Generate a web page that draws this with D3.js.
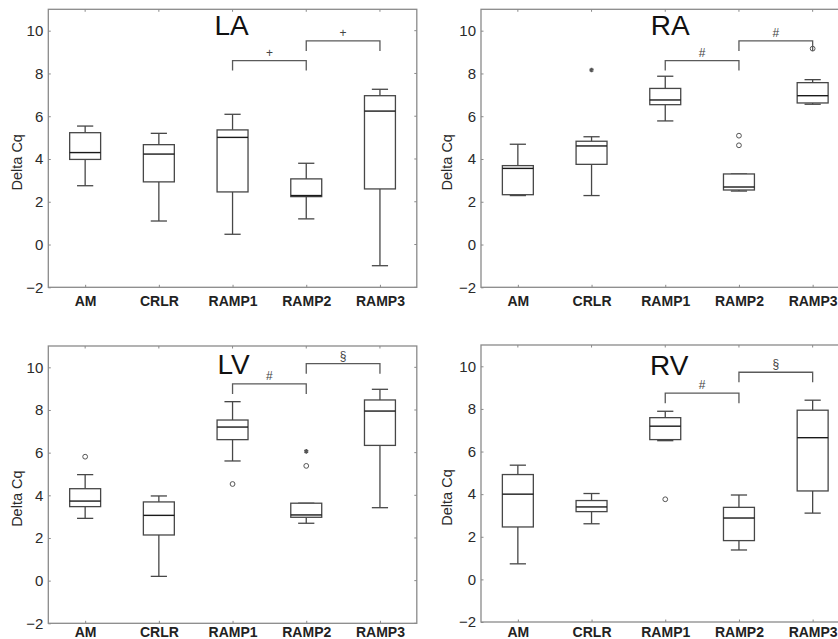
<!DOCTYPE html>
<html>
<head>
<meta charset="utf-8">
<script src="https://cdn.jsdelivr.net/npm/d3@7.9.0/dist/d3.min.js"></script>
<style>
  body { margin: 0; background: #fff; }
  svg { display: block; font-family: 'Liberation Sans', Arial, sans-serif; }
</style>
</head>
<body>
<svg id="chart" width="838" height="639"></svg>
<script>
const categories = ['AM', 'CRLR', 'RAMP1', 'RAMP2', 'RAMP3'];
const yTicks = [-2, 0, 2, 4, 6, 8, 10];

// [lower whisker, q1, median, q3, upper whisker]
const laStats = [
  [2.75, 3.98, 4.30, 5.23, 5.54],
  [1.10, 2.93, 4.23, 4.67, 5.20],
  [0.48, 2.46, 5.01, 5.36, 6.09],
  [1.20, 2.24, 2.29, 3.07, 3.80],
  [-0.99, 2.60, 6.24, 6.96, 7.26],
];
const raStats = [
  [2.29, 2.33, 3.56, 3.69, 4.69],
  [2.29, 3.75, 4.61, 4.83, 5.04],
  [5.78, 6.54, 6.76, 7.30, 7.87],
  [2.50, 2.55, 2.69, 3.30, 3.30],
  [6.56, 6.62, 6.96, 7.57, 7.71],
];
const lvStats = [
  [2.92, 3.47, 3.73, 4.31, 4.97],
  [0.20, 2.14, 3.06, 3.69, 3.97],
  [5.61, 6.61, 7.20, 7.53, 8.39],
  [2.69, 2.97, 3.08, 3.63, 3.63],
  [3.42, 6.34, 7.95, 8.47, 8.97],
];
const rvStats = [
  [0.73, 2.46, 4.00, 4.92, 5.36],
  [2.61, 3.18, 3.40, 3.70, 4.03],
  [6.51, 6.56, 7.19, 7.59, 7.89],
  [1.38, 1.82, 2.88, 3.38, 3.96],
  [3.11, 4.15, 6.65, 7.94, 8.41],
];

const laOutliers = [];
const raOutliers = [
  { cat: 'CRLR', value: 8.16, kind: 'star' },
  { cat: 'RAMP2', value: 5.09, kind: 'circle' },
  { cat: 'RAMP2', value: 4.64, kind: 'circle' },
  { cat: 'RAMP3', value: 9.16, kind: 'circle' },
];
const lvOutliers = [
  { cat: 'AM', value: 5.81, kind: 'circle' },
  { cat: 'RAMP1', value: 4.53, kind: 'circle' },
  { cat: 'RAMP2', value: 6.06, kind: 'star' },
  { cat: 'RAMP2', value: 5.38, kind: 'circle' },
];
const rvOutliers = [
  { cat: 'RAMP1', value: 3.76, kind: 'circle' },
];

const laBrackets = [
  { from: 'RAMP1', to: 'RAMP2', value: 8.60, label: '+' },
  { from: 'RAMP2', to: 'RAMP3', value: 9.52, label: '+' },
];
const raBrackets = [
  { from: 'RAMP1', to: 'RAMP2', value: 8.60, label: '#' },
  { from: 'RAMP2', to: 'RAMP3', value: 9.52, label: '#' },
];
const lvBrackets = [
  { from: 'RAMP1', to: 'RAMP2', value: 9.22, label: '#' },
  { from: 'RAMP2', to: 'RAMP3', value: 10.17, label: '§' },
];
const rvBrackets = [
  { from: 'RAMP1', to: 'RAMP2', value: 8.74, label: '#' },
  { from: 'RAMP2', to: 'RAMP3', value: 9.72, label: '§' },
];

const panels = [
  { title: 'LA', stats: laStats, outliers: laOutliers, brackets: laBrackets,
    left: 48.3, top: 9.3, bottom: 287.3, labelX: 16.7, titleDx: -1, titleY: 35, catDy: 19 },
  { title: 'RA', stats: raStats, outliers: raOutliers, brackets: raBrackets,
    left: 481, top: 9.3, bottom: 287.3, labelX: 447, titleDx: 5, titleY: 35, catDy: 19 },
  { title: 'LV', stats: lvStats, outliers: lvOutliers, brackets: lvBrackets,
    left: 48.3, top: 346, bottom: 623.3, labelX: 16.7, titleDx: 1, titleY: 373.5, catDy: 14 },
  { title: 'RV', stats: rvStats, outliers: rvOutliers, brackets: rvBrackets,
    left: 481, top: 345, bottom: 622, labelX: 447, titleDx: 4, titleY: 374.5, catDy: 14.5 },
];

const axisColor = '#8a8a8a';
const boxColor = '#474747';
const panelWidth = 368.5;

const svg = d3.select('#chart');

panels.forEach((p) => {
  const g = svg.append('g');

  const x = d3.scaleLinear()
    .domain([0.5, categories.length + 0.5])
    .range([p.left, p.left + panelWidth]);
  const y = d3.scaleLinear()
    .domain([-2, 11])
    .range([p.bottom, p.top]);
  const xc = (cat) => x(categories.indexOf(cat) + 1);
  const step = x(2) - x(1);
  const boxW = step * 0.42;
  const capW = step * 0.22;

  // frame
  g.append('rect')
    .attr('x', x(0.5)).attr('y', y(11))
    .attr('width', x(5.5) - x(0.5)).attr('height', y(-2) - y(11))
    .attr('fill', 'none').attr('stroke', axisColor).attr('stroke-width', 1.3);

  // y axis
  const yAxis = g.append('g')
    .attr('transform', `translate(${x(0.5)},0)`)
    .call(d3.axisLeft(y).tickValues(yTicks).tickSize(-2.5).tickPadding(5));
  yAxis.select('.domain').remove();
  yAxis.selectAll('line').attr('stroke', axisColor);
  yAxis.selectAll('text')
    .attr('font-size', 15).attr('fill', '#2a2a2a')
    .attr('font-family', "'Liberation Sans', Arial, sans-serif");

  // mirrored ticks on right
  g.selectAll('.rtick').data(yTicks).enter().append('line')
    .attr('x1', x(5.5)).attr('x2', x(5.5) - 2.5)
    .attr('y1', (d) => y(d)).attr('y2', (d) => y(d))
    .attr('stroke', axisColor);

  // x axis
  const xAxis = g.append('g')
    .attr('transform', `translate(0,${y(-2)})`)
    .call(d3.axisBottom(x).tickValues([1, 2, 3, 4, 5]).tickSize(-2.5)
      .tickFormat((d) => categories[d - 1]).tickPadding(0));
  xAxis.select('.domain').remove();
  xAxis.selectAll('line').attr('stroke', axisColor);
  xAxis.selectAll('text')
    .attr('y', p.catDy).attr('dy', null)
    .attr('font-size', 14).attr('font-weight', 'bold').attr('fill', '#222')
    .attr('font-family', "'Liberation Sans', Arial, sans-serif");

  // mirrored ticks on top
  g.selectAll('.ttick').data([1, 2, 3, 4, 5]).enter().append('line')
    .attr('x1', (d) => x(d)).attr('x2', (d) => x(d))
    .attr('y1', y(11)).attr('y2', y(11) + 2.5)
    .attr('stroke', axisColor);

  // y label
  g.append('text')
    .attr('transform', `translate(${p.labelX},${(y(-2) + y(11)) / 2 + 14}) rotate(-90)`)
    .attr('text-anchor', 'middle').attr('dominant-baseline', 'central')
    .attr('font-size', 14.5).attr('fill', '#2a2a2a')
    .text('Delta Cq');

  // title
  g.append('text')
    .attr('x', x(3) + p.titleDx).attr('y', p.titleY)
    .attr('text-anchor', 'middle')
    .attr('font-size', 28).attr('fill', '#111')
    .text(p.title);

  // boxes
  const boxes = g.selectAll('.box').data(p.stats).enter().append('g')
    .attr('stroke', boxColor).attr('stroke-width', 1.3).attr('fill', 'none');

  boxes.append('line')
    .attr('x1', (d, i) => x(i + 1)).attr('x2', (d, i) => x(i + 1))
    .attr('y1', (d) => y(d[3])).attr('y2', (d) => y(d[4]));
  boxes.append('line')
    .attr('x1', (d, i) => x(i + 1)).attr('x2', (d, i) => x(i + 1))
    .attr('y1', (d) => y(d[1])).attr('y2', (d) => y(d[0]));
  boxes.append('line')
    .attr('x1', (d, i) => x(i + 1) - capW / 2).attr('x2', (d, i) => x(i + 1) + capW / 2)
    .attr('y1', (d) => y(d[4])).attr('y2', (d) => y(d[4]));
  boxes.append('line')
    .attr('x1', (d, i) => x(i + 1) - capW / 2).attr('x2', (d, i) => x(i + 1) + capW / 2)
    .attr('y1', (d) => y(d[0])).attr('y2', (d) => y(d[0]));
  boxes.append('rect')
    .attr('x', (d, i) => x(i + 1) - boxW / 2).attr('width', boxW)
    .attr('y', (d) => y(d[3])).attr('height', (d) => y(d[1]) - y(d[3]))
    .attr('fill', '#fff');
  boxes.append('line')
    .attr('x1', (d, i) => x(i + 1) - boxW / 2).attr('x2', (d, i) => x(i + 1) + boxW / 2)
    .attr('y1', (d) => y(d[2])).attr('y2', (d) => y(d[2]))
    .attr('stroke', '#1a1a1a').attr('stroke-width', 1.4);

  // outliers
  g.selectAll('.out').data(p.outliers).enter().append('path')
    .attr('transform', (d) => `translate(${xc(d.cat)},${y(d.value)})`)
    .attr('d', (d) => d.kind === 'circle'
      ? d3.symbol(d3.symbolCircle, 18)()
      : d3.symbol(d3.symbolAsterisk, 14)())
    .attr('fill', (d) => (d.kind === 'circle' ? 'none' : '#333'))
    .attr('stroke', '#555')
    .attr('stroke-width', (d) => (d.kind === 'circle' ? 1 : 1.6));

  // significance brackets
  const br = g.selectAll('.br').data(p.brackets).enter().append('g');
  br.append('path')
    .attr('d', (d) => {
      const yb = y(d.value);
      return `M${xc(d.from)},${yb + 10}V${yb}H${xc(d.to)}V${yb + 10}`;
    })
    .attr('fill', 'none').attr('stroke', '#5a5a5a').attr('stroke-width', 1.3);
  br.append('text')
    .attr('x', (d) => (xc(d.from) + xc(d.to)) / 2)
    .attr('y', (d) => y(d.value) - 4)
    .attr('text-anchor', 'middle')
    .attr('font-size', 12).attr('fill', '#444')
    .text((d) => d.label);
});
</script>
</body>
</html>
